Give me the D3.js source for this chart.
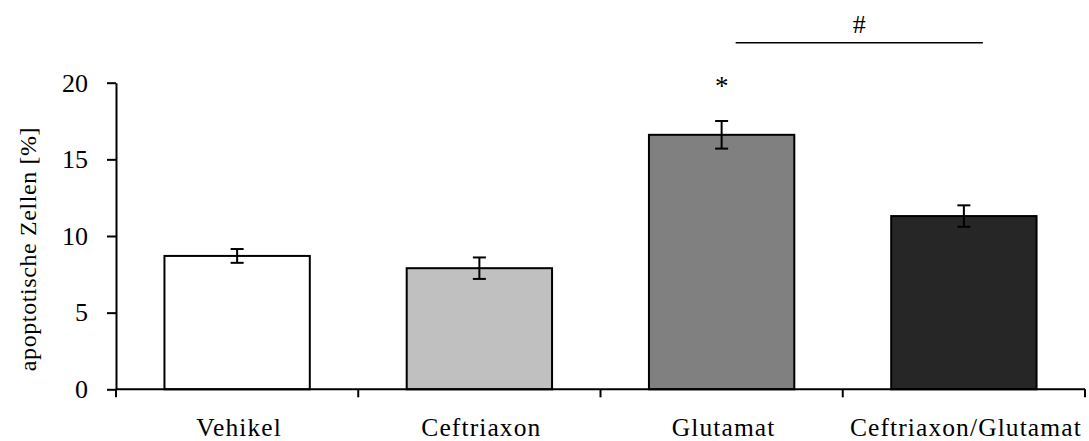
<!DOCTYPE html>
<html>
<head>
<meta charset="utf-8">
<script src="https://cdn.jsdelivr.net/npm/d3@7"></script>
<style>
  html, body { margin: 0; padding: 0; background: #fff; }
  svg text { font-family: "Liberation Serif", "DejaVu Serif", serif; fill: #000; }
</style>
</head>
<body>
<svg id="chart" width="1089" height="441"></svg>
<script>
// Apoptotic cells per treatment group (mean ± error)
const categories = ["Vehikel", "Ceftriaxon", "Glutamat", "Ceftriaxon/Glutamat"];
const means = [8.7, 7.9, 16.6, 11.3];
const errors = [0.45, 0.7, 0.9, 0.7];
const fills = ["#ffffff", "#c0c0c0", "#808080", "#262626"];
const yTicks = [0, 5, 10, 15, 20];
const yLabel = "apoptotische Zellen [%]";
const starMark = { category: "Glutamat", label: "*" };
const bracket = { from: "Glutamat", to: "Ceftriaxon/Glutamat", label: "#" };

const serif = "'Liberation Serif', 'DejaVu Serif', serif";
const svg = d3.select("#chart");

const x = d3.scaleBand()
  .domain(categories)
  .range([116, 1085])
  .paddingInner(0.4)
  .paddingOuter(0.2);

const y = d3.scaleLinear()
  .domain([0, 20])
  .range([389.3, 82.7]);

// Bars
svg.append("g").selectAll("rect")
  .data(categories)
  .join("rect")
  .attr("x", d => x(d))
  .attr("y", (d, i) => y(means[i]))
  .attr("width", x.bandwidth())
  .attr("height", (d, i) => y(0) - y(means[i]))
  .attr("fill", (d, i) => fills[i])
  .attr("stroke", "#000")
  .attr("stroke-width", 2);

// Error bars
const eb = svg.append("g").attr("stroke", "#000").attr("stroke-width", 2);
categories.forEach((c, i) => {
  const cx = x(c) + x.bandwidth() / 2;
  const hi = y(means[i] + errors[i]);
  const lo = y(means[i] - errors[i]);
  eb.append("line").attr("x1", cx).attr("x2", cx).attr("y1", hi).attr("y2", lo);
  eb.append("line").attr("x1", cx - 6.5).attr("x2", cx + 6.5).attr("y1", hi).attr("y2", hi);
  eb.append("line").attr("x1", cx - 6.5).attr("x2", cx + 6.5).attr("y1", lo).attr("y2", lo);
});

// Y axis
const yAxis = svg.append("g")
  .attr("transform", "translate(116,0)")
  .call(d3.axisLeft(y).tickValues(yTicks).tickSize(9).tickPadding(19).tickSizeOuter(0));
yAxis.attr("font-family", null).attr("font-size", null);
yAxis.select(".domain").attr("stroke-width", 2);
yAxis.selectAll(".tick line").attr("stroke-width", 2);
yAxis.selectAll(".tick text")
  .attr("x", -28)
  .style("font-family", serif)
  .style("font-size", "26px");

// X axis line with ticks at band boundaries
const [x0, x1] = x.range();
const step = x.step();
const xg = svg.append("g").attr("stroke", "#000").attr("stroke-width", 2);
xg.append("line").attr("x1", x0).attr("x2", x1).attr("y1", y(0)).attr("y2", y(0));
d3.range(categories.length + 1).forEach(i => {
  const bx = x0 + i * step;
  xg.append("line").attr("x1", bx).attr("x2", bx).attr("y1", y(0)).attr("y2", y(0) + 8);
});

// Category labels
svg.append("g").selectAll("text")
  .data(categories)
  .join("text")
  .attr("x", d => x(d) + x.bandwidth() / 2 + 2)
  .attr("y", 435.5)
  .attr("text-anchor", "middle")
  .style("font-family", serif)
  .style("font-size", "25.5px")
  .style("letter-spacing", "1.1px")
  .text(d => d);

// Y axis title
svg.append("text")
  .attr("transform", "translate(36,249) rotate(-90)")
  .attr("text-anchor", "middle")
  .style("font-family", serif)
  .style("font-size", "24px")
  .style("letter-spacing", "0.6px")
  .text(yLabel);

// Significance marks
const si = categories.indexOf(starMark.category);
svg.append("text")
  .attr("x", x(starMark.category) + x.bandwidth() / 2)
  .attr("y", y(means[si] + errors[si]) - 26)
  .attr("text-anchor", "middle")
  .style("font-family", serif)
  .style("font-size", "27px")
  .text(starMark.label);

const bx1 = x(bracket.from) + x.bandwidth() / 2 + 14;
const bx2 = x(bracket.to) + x.bandwidth() / 2 + 19;
svg.append("line")
  .attr("x1", bx1).attr("x2", bx2)
  .attr("y1", 42.7).attr("y2", 42.7)
  .attr("stroke", "#000").attr("stroke-width", 1.6);
svg.append("text")
  .attr("x", (bx1 + bx2) / 2)
  .attr("y", 33)
  .attr("text-anchor", "middle")
  .style("font-family", serif)
  .style("font-size", "26px")
  .text(bracket.label);
</script>
</body>
</html>
